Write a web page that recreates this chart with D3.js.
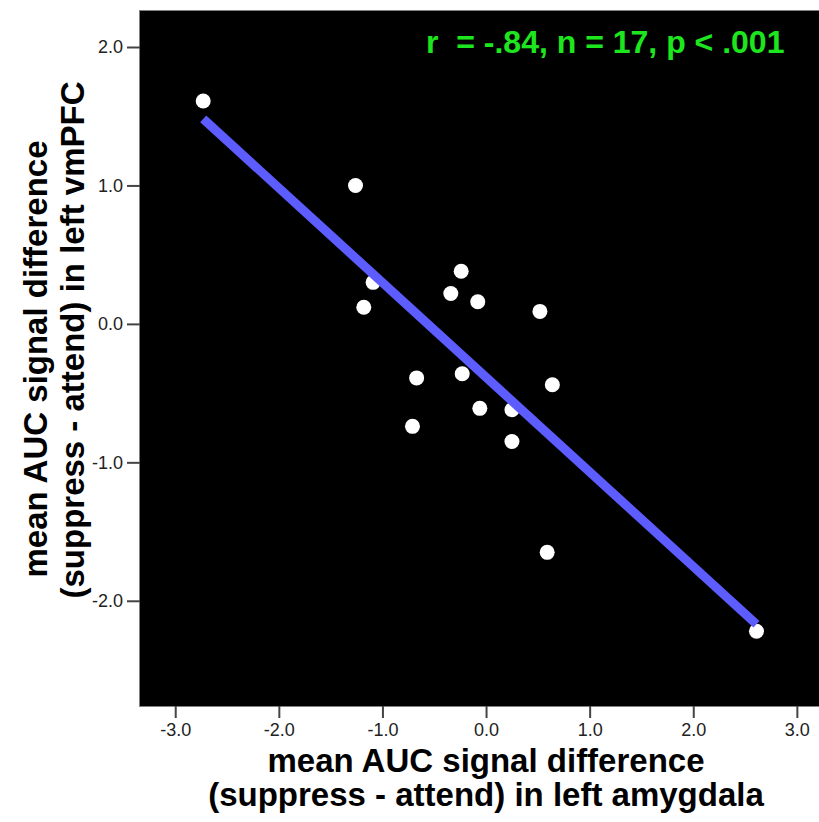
<!DOCTYPE html>
<html>
<head>
<meta charset="utf-8">
<script src="https://cdn.jsdelivr.net/npm/d3@7"></script>
<style>
  html, body { margin: 0; padding: 0; background: #fff; }
  svg { display: block; font-family: "Liberation Sans", Arial, sans-serif; }
</style>
</head>
<body>
<svg id="chart" width="819" height="822"></svg>
<script>
// Left amygdala vs. left vmPFC: mean AUC signal difference (suppress - attend), one point per participant
const amygdala = [-2.73, -1.26, -1.09, -1.18, -0.24, -0.34, -0.08, 0.52, -0.67, -0.23, 0.64, -0.06, 0.25, -0.71, 0.25, 0.59, 2.61];
const vmPFC    = [ 1.61,  1.00,  0.30,  0.12,  0.38,  0.22,  0.16, 0.09, -0.39, -0.36, -0.44, -0.61, -0.62, -0.74, -0.85, -1.65, -2.22];
const xTicks = [-3, -2, -1, 0, 1, 2, 3];
const yTicks = [-2, -1, 0, 1, 2];
const statsLabel = "r  = -.84, n = 17, p < .001";
const xTitle = ["mean AUC signal difference", "(suppress - attend) in left amygdala"];
const yTitle = ["mean AUC signal difference", "(suppress - attend) in left vmPFC"];

const points = amygdala.map((x, i) => ({ x, y: vmPFC[i] }));

const svg = d3.select("#chart");
const plot = { left: 140, top: 11, right: 823.8, bottom: 706 };

const x = d3.scaleLinear().domain([-3.34, 3.26]).range([plot.left, plot.right]);
const y = d3.scaleLinear().domain([-2.76, 2.26]).range([plot.bottom, plot.top]);

// Plot background
svg.append("rect")
  .attr("x", plot.left - 0.5).attr("y", plot.top - 0.5)
  .attr("width", plot.right - plot.left + 1).attr("height", plot.bottom - plot.top + 1)
  .attr("fill", "#000").attr("stroke", "#808080").attr("stroke-width", 1);

// Axes
const xAxis = d3.axisBottom(x).tickValues(xTicks).tickFormat(d3.format(".1f")).tickSize(12).tickPadding(5);
const yAxis = d3.axisLeft(y).tickValues(yTicks).tickFormat(d3.format(".1f")).tickSize(13).tickPadding(4);

const gx = svg.append("g").attr("transform", `translate(0,${plot.bottom})`).call(xAxis);
const gy = svg.append("g").attr("transform", `translate(${plot.left},0)`).call(yAxis);
[gx, gy].forEach(g => {
  g.select(".domain").remove();
  g.selectAll(".tick line").attr("stroke", "#444").attr("stroke-width", 2);
  g.selectAll(".tick text").attr("fill", "#222").attr("font-size", 18)
    .text(d => d3.format(".1f")(d).replace("−", "-"));
});

// Scatter points
svg.append("g").selectAll("circle").data(points).join("circle")
  .attr("cx", d => x(d.x)).attr("cy", d => y(d.y))
  .attr("r", 7.5).attr("fill", "#fff");

// Least-squares fit line across the observed range
const mx = d3.mean(amygdala), my = d3.mean(vmPFC);
const slope = d3.sum(points, d => (d.x - mx) * (d.y - my)) / d3.sum(points, d => (d.x - mx) ** 2);
const intercept = my - slope * mx;
const [x0, x1] = d3.extent(amygdala);
svg.append("line")
  .attr("x1", x(x0)).attr("y1", y(intercept + slope * x0))
  .attr("x2", x(x1)).attr("y2", y(intercept + slope * x1))
  .attr("stroke", "#5c5cff").attr("stroke-width", 9).attr("stroke-linecap", "butt");

// Correlation statistics
svg.append("text")
  .attr("x", 426).attr("y", 53)
  .attr("fill", "#1ee61e").attr("font-size", 32).attr("font-weight", "bold")
  .style("white-space", "pre")
  .text(statsLabel);

// Axis titles
const xCenter = 486;
svg.append("g").selectAll("text").data(xTitle).join("text")
  .attr("x", xCenter).attr("y", (d, i) => 772 + i * 34)
  .attr("text-anchor", "middle").attr("font-size", 33).attr("font-weight", "bold").attr("fill", "#000")
  .text(d => d);

const yCenters = [359, 340];
const yBaselines = [47, 84];
svg.append("g").selectAll("text").data(yTitle).join("text")
  .attr("transform", (d, i) => `translate(${yBaselines[i]},${yCenters[i]}) rotate(-90)`)
  .attr("text-anchor", "middle").attr("font-size", 33).attr("font-weight", "bold").attr("fill", "#000")
  .text(d => d);
</script>
</body>
</html>
